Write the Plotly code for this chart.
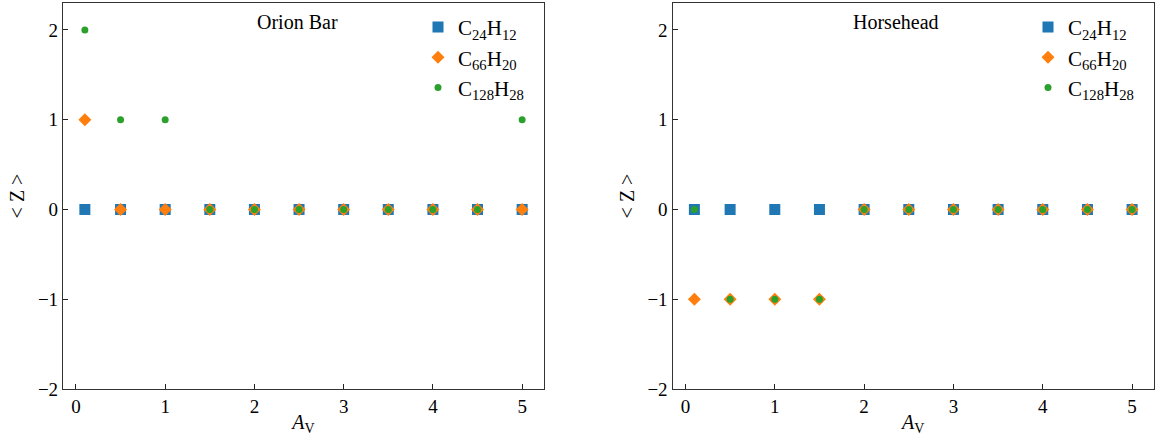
import plotly.graph_objects as go

av = [0.1, 0.5, 1, 1.5, 2, 2.5, 3, 3.5, 4, 4.5, 5]

orion_c24 = [0, 0, 0, 0, 0, 0, 0, 0, 0, 0, 0]
orion_c66 = [1, 0, 0, 0, 0, 0, 0, 0, 0, 0, 0]
orion_c128 = [2, 1, 1, 0, 0, 0, 0, 0, 0, 0, 1]

horse_c24 = [0, 0, 0, 0, 0, 0, 0, 0, 0, 0, 0]
horse_c66 = [-1, -1, -1, -1, 0, 0, 0, 0, 0, 0, 0]
horse_c128 = [0, -1, -1, -1, 0, 0, 0, 0, 0, 0, 0]

names = ["C<sub>24</sub>H<sub>12</sub>", "C<sub>66</sub>H<sub>20</sub>", "C<sub>128</sub>H<sub>28</sub>"]
colors = ["#1f77b4", "#ff7f0e", "#2ca02c"]
symbols = ["square", "diamond", "circle"]
sizes = [11, 10, 7]
panel_titles = ["Orion Bar", "Horsehead"]

FONT = "Liberation Serif"

fig = go.Figure()

panels = [
    ("x", "y", "legend", [orion_c24, orion_c66, orion_c128]),
    ("x2", "y2", "legend2", [horse_c24, horse_c66, horse_c128]),
]
for xa, ya, lg, series in panels:
    for i, vals in enumerate(series):
        fig.add_trace(go.Scatter(
            x=av, y=vals, mode="markers", name=names[i],
            xaxis=xa, yaxis=ya, legend=lg,
            marker=dict(symbol=symbols[i], size=sizes[i], color=colors[i], line=dict(width=0)),
        ))

W, H = 1156, 436
T, B = 3, 47
plot_h = H - T - B
dom1 = [63 / W, 544 / W]
dom2 = [672.5 / W, 1154 / W]

axis_common = dict(
    showgrid=False, zeroline=False, showline=True, linecolor="#333", linewidth=1.2,
    mirror=True, ticks="inside", ticklen=5, tickwidth=1, tickcolor="#222",
    tickfont=dict(family=FONT, size=19, color="black"),
)
xcommon = dict(axis_common, range=[-0.145, 5.245], tickvals=[0, 1, 2, 3, 4, 5],
               title=dict(text="<i>A</i><sub>V</sub>", font=dict(family=FONT, size=20, color="black"), standoff=3))
ycommon = dict(axis_common, range=[-2, 2.3], tickvals=[-2, -1, 0, 1, 2],
               title=dict(text="&lt; Z &gt;", font=dict(family=FONT, size=20, color="black"), standoff=7))

legend_common = dict(
    font=dict(family=FONT, size=21, color="black"),
    bgcolor="rgba(0,0,0,0)", borderwidth=0, xanchor="left", yanchor="top",
    tracegroupgap=0, itemwidth=30,
)

fig.update_layout(
    width=W, height=H,
    margin=dict(l=0, r=0, t=T, b=B),
    plot_bgcolor="white", paper_bgcolor="white",
    xaxis=dict(xcommon, domain=dom1, anchor="y"),
    yaxis=dict(ycommon, domain=[0, 1], anchor="x"),
    xaxis2=dict(xcommon, domain=dom2, anchor="y2"),
    yaxis2=dict(ycommon, domain=[0, 1], anchor="x2"),
    legend=dict(legend_common, x=418 / W, y=0.99),
    legend2=dict(legend_common, x=1028 / W, y=0.99),
    annotations=[
        dict(text=panel_titles[0], x=297 / W, y=1 - (22 - T) / plot_h, xref="paper", yref="paper",
             xanchor="center", yanchor="middle",
             showarrow=False, font=dict(family=FONT, size=20, color="black")),
        dict(text=panel_titles[1], x=896 / W, y=1 - (22 - T) / plot_h, xref="paper", yref="paper",
             xanchor="center", yanchor="middle",
             showarrow=False, font=dict(family=FONT, size=20, color="black")),
    ],
)

fig.write_html("out.html")
